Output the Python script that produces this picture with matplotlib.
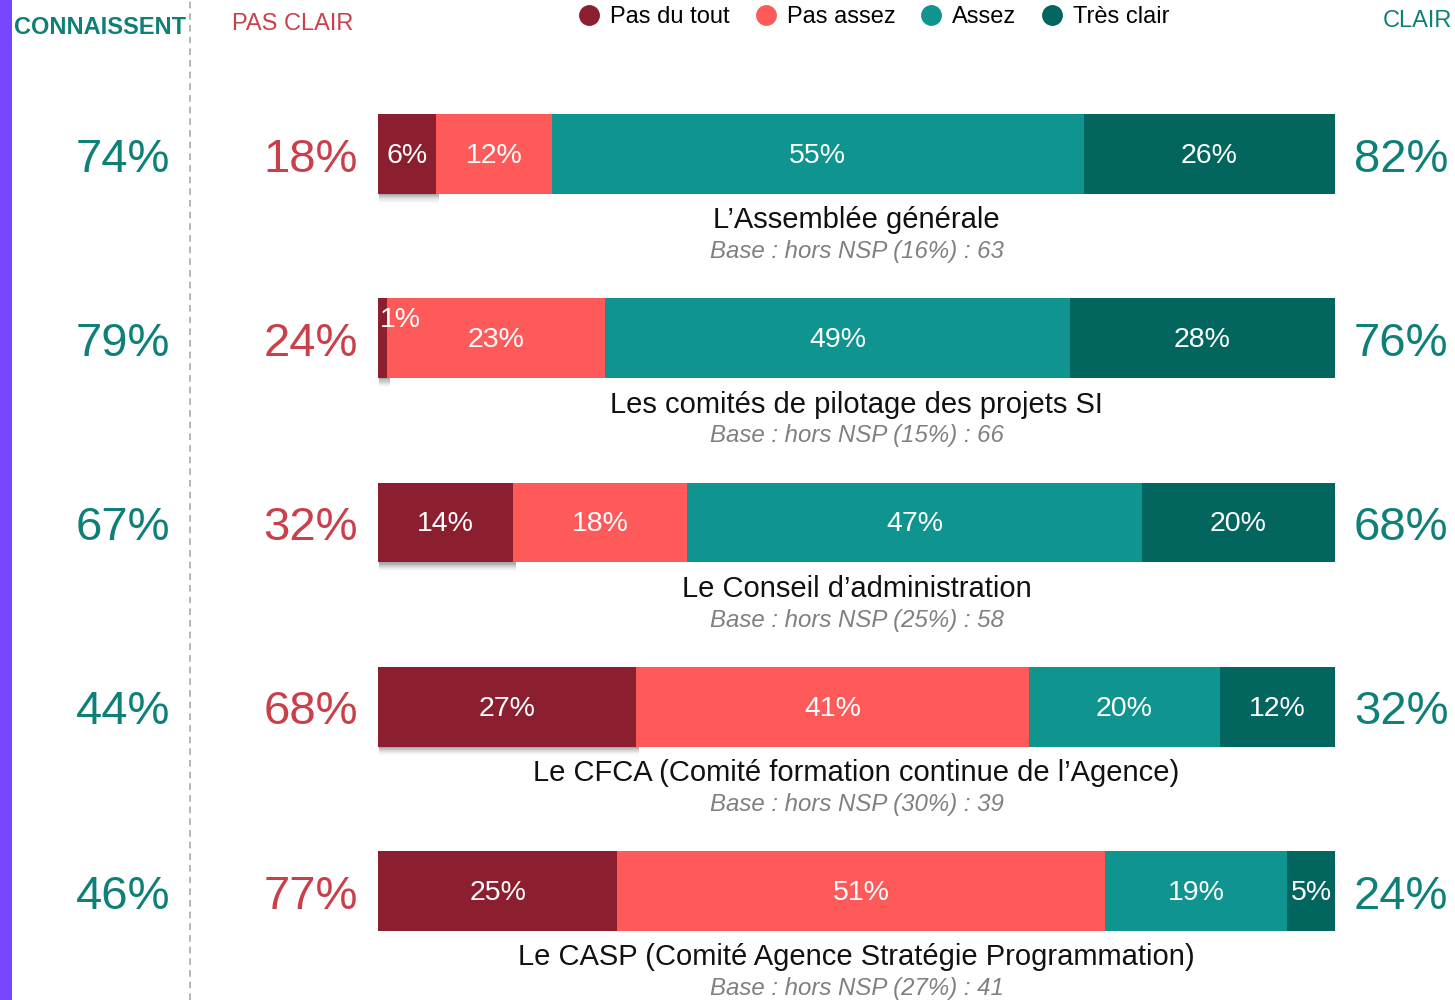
import numpy as np
import matplotlib
matplotlib.use("Agg")
import matplotlib.pyplot as plt
from matplotlib.lines import Line2D
from matplotlib.patches import Rectangle
from matplotlib.transforms import blended_transform_factory

plt.rcParams['font.family'] = ['Liberation Sans', 'DejaVu Sans']

# data
categories = ["L\u2019Assemblée générale",
              "Les comités de pilotage des projets SI",
              "Le Conseil d\u2019administration",
              "Le CFCA (Comité formation continue de l\u2019Agence)",
              "Le CASP (Comité Agence Stratégie Programmation)"]
bases = ["Base : hors NSP (16%) : 63",
         "Base : hors NSP (15%) : 66",
         "Base : hors NSP (25%) : 58",
         "Base : hors NSP (30%) : 39",
         "Base : hors NSP (27%) : 41"]
series = ["Pas du tout", "Pas assez", "Assez", "Très clair"]
pas_du_tout = [6, 1, 14, 27, 25]
pas_assez = [12, 23, 18, 41, 51]
assez = [55, 49, 47, 20, 19]
tres_clair = [26, 28, 20, 12, 5]
connaissent = [74, 79, 67, 44, 46]
pas_clair = [18, 24, 32, 68, 77]
clair = [82, 76, 68, 32, 24]

colors = ["#8B1F30", "#FF5A5A", "#10948F", "#02665F"]
teal_txt = "#0F8078"
red_txt = "#C9404A"

fig = plt.figure(figsize=(14.55, 10), dpi=100)
ax = fig.add_axes([378 / 1455, 69 / 1000, 957 / 1455, 817 / 1000])

vals = np.array([pas_du_tout, pas_assez, assez, tres_clair], dtype=float)
widths = vals / vals.sum(axis=0) * 100
ypos = np.arange(len(categories))
h = 0.434

left = np.zeros(len(categories))
for i in range(len(series)):
    ax.barh(ypos, widths[i], left=left, height=h, color=colors[i], label=series[i])
    for j in ypos:
        v = vals[i, j]
        if v < 3:
            ax.text(left[j] + 0.2, j - 0.1, f"{v:.0f}%", color="white", fontsize=20.5,
                    ha="left", va="center")
        else:
            ax.text(left[j] + widths[i, j] / 2, j + 0.01, f"{v:.0f}%", color="white",
                    fontsize=20.5, ha="center", va="center")
    left += widths[i]

# soft shadow under the first segment
for j in ypos:
    for k in range(8):
        ax.add_patch(Rectangle((0.1, j + h / 2 + k * 0.006), widths[0, j] + 0.2, 0.006,
                               color="#444444", alpha=0.45 * (1 - k / 8) ** 1.5, lw=0,
                               zorder=0))

for j in ypos:
    ax.text(50, j + 0.36, categories[j], ha="center", va="center", fontsize=21,
            color="#111111")
    ax.text(50, j + 0.53, bases[j], ha="center", va="center", fontsize=17.3,
            color="#808080", style="italic")

ax.set_xlim(0, 100)
ax.set_ylim(len(categories) - 1 + h / 2, -h / 2)
ax.axis("off")

tr = blended_transform_factory(fig.transFigure, ax.transData)
for j in ypos:
    ax.text(123 / 1455, j + 0.03, f"{connaissent[j]}%", transform=tr, ha="center",
            va="center", fontsize=34, color=teal_txt, clip_on=False)
    ax.text(358 / 1455, j + 0.03, f"{pas_clair[j]}%", transform=tr, ha="right",
            va="center", fontsize=34, color=red_txt, clip_on=False)
    ax.text(1354 / 1455, j + 0.03, f"{clair[j]}%", transform=tr, ha="left",
            va="center", fontsize=34, color=teal_txt, clip_on=False)

# headers
fig.text(14 / 1455, 1 - 27 / 1000, "CONNAISSENT", fontsize=17, fontweight="bold",
         color=teal_txt, ha="left", va="center")
fig.text(293 / 1455, 1 - 24 / 1000, "PAS CLAIR", fontsize=17, color=red_txt,
         ha="center", va="center")
fig.text(1452 / 1455, 1 - 21 / 1000, "CLAIR", fontsize=17, color=teal_txt,
         ha="right", va="center")

handles = [Line2D([], [], marker="o", ls="", markersize=14, color=c) for c in colors]
fig.legend(handles, series, loc="center", bbox_to_anchor=(874 / 1455, 1 - 17 / 1000),
           ncol=4, frameon=False, fontsize=17, handlelength=0.9, handletextpad=0.45,
           columnspacing=1.05, borderaxespad=0, borderpad=0)

# left accent and dashed separator
fig.add_artist(Rectangle((0, 0), 12 / 1455, 1, transform=fig.transFigure,
                         color="#7744FF", lw=0))
fig.add_artist(Line2D([190 / 1455, 190 / 1455], [0, 1], transform=fig.transFigure,
                      color="#AAAAAA", ls=(0, (4, 3)), lw=1.2))

fig.savefig("out.png", dpi=100)
